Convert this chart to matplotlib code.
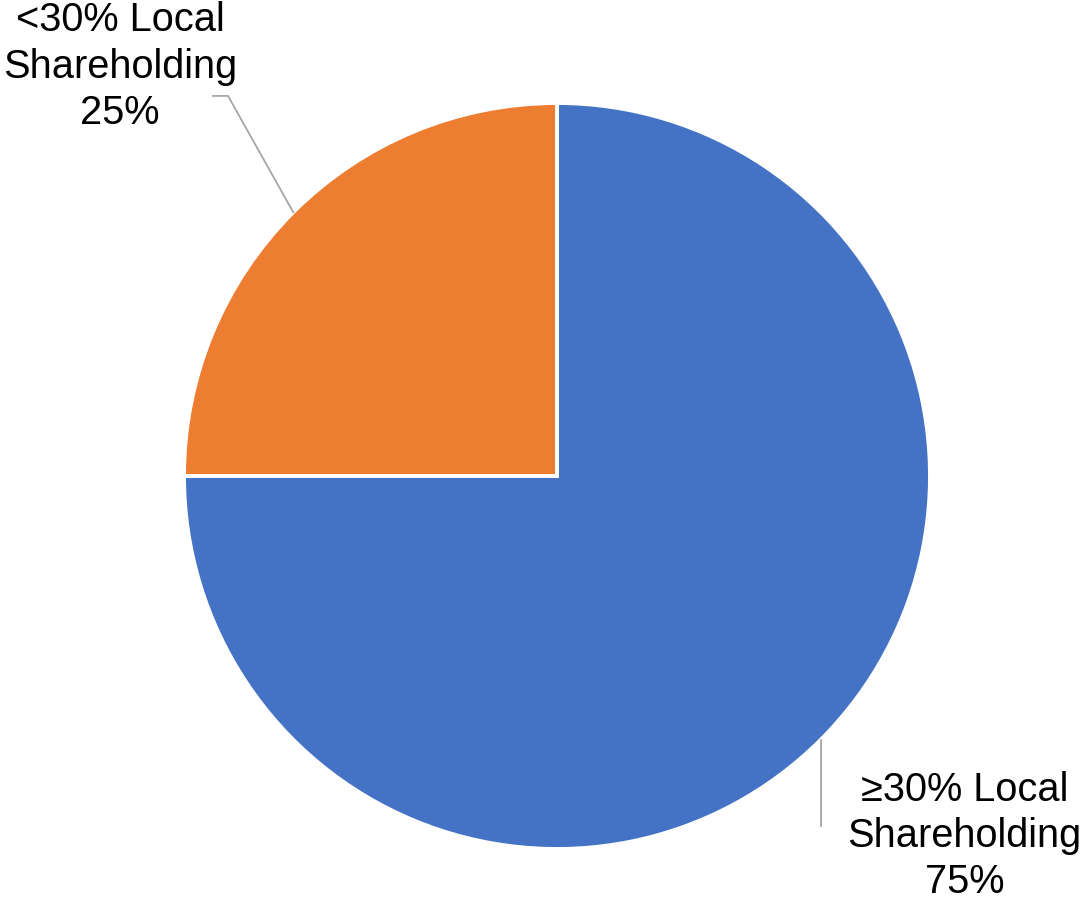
import matplotlib.pyplot as plt
import numpy as np

labels = ["\u226530% Local\nShareholding\n75%", "<30% Local\nShareholding\n25%"]
shares = [75, 25]
colors = ["#4472C4", "#ED7D31"]

plt.rcParams['font.family'] = ['Liberation Sans', 'DejaVu Sans']

fig = plt.figure(figsize=(10.89, 9.01), dpi=100)
ax = fig.add_axes([0, 0, 1, 1])
wedges, _ = ax.pie(shares, colors=colors, startangle=90, counterclock=False,
                   radius=1, wedgeprops=dict(edgecolor="white", linewidth=2.8))
ax.set_xlim(-557 / 373, (1089 - 557) / 373)
ax.set_ylim(-(901 - 476) / 373, 476 / 373)
ax.set_aspect("equal")
ax.axis("off")

line_col = "#A6A6A6"
# label placement (text centre, leader path) per wedge
for w, lab in zip(wedges, labels):
    mid = np.deg2rad((w.theta1 + w.theta2) / 2)
    ax0, ay0 = np.cos(mid), np.sin(mid)
    if ax0 > 0:
        ax.plot([ax0, ax0], [ay0, -0.938], color=line_col, lw=1.3)
        ax.text(1.092, -0.965, lab, ha="center", va="center",
                fontsize=28.6, linespacing=1.28, multialignment="center")
    else:
        ax.plot([ax0, -0.882, -0.922], [ay0, 1.019, 1.019], color=line_col, lw=1.3)
        ax.text(-1.1716, 1.097, lab, ha="center", va="center",
                fontsize=28.6, linespacing=1.28, multialignment="center")

fig.savefig("out.png", dpi=100)
